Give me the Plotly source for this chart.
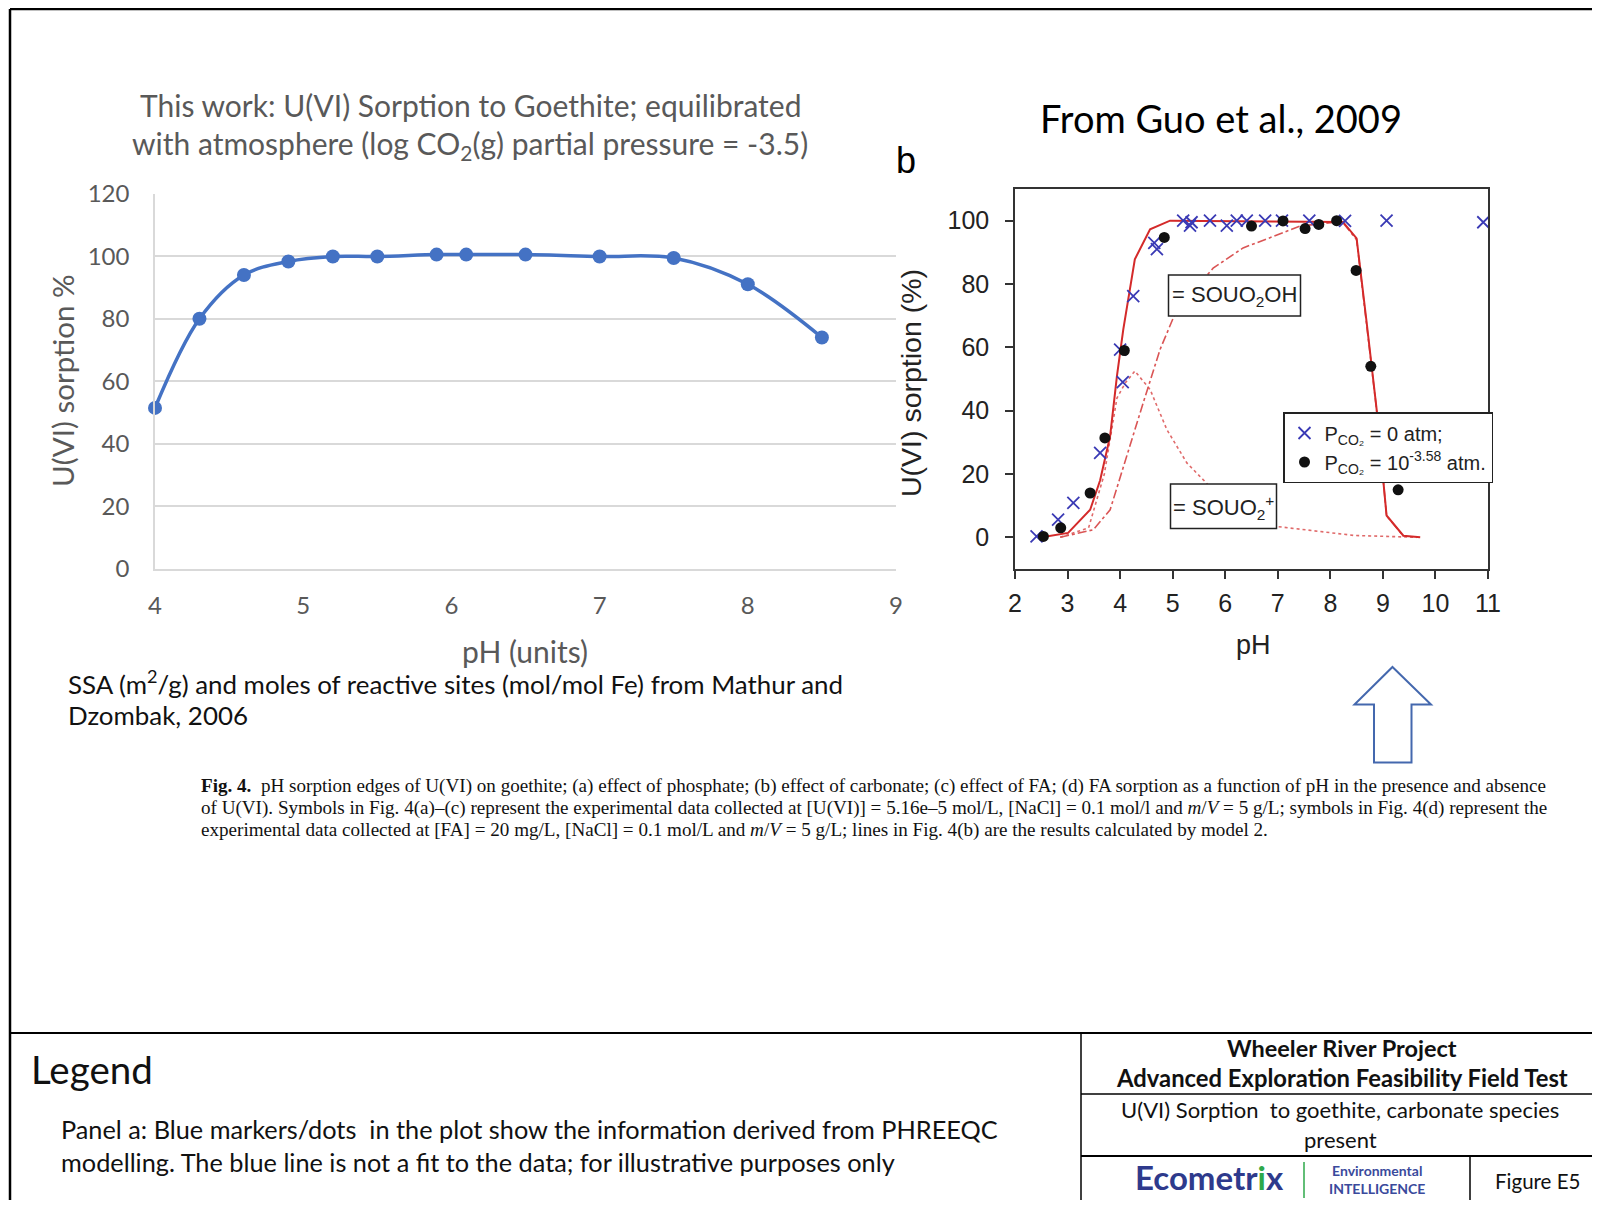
import plotly.graph_objects as go

# page body keeps its default 8px margin, so the figure is sized to fit inside the window
OFF = 8
W, H = 1600 - 2 * OFF, 1208 - 2 * OFF


def px(x):
    return (x - OFF) / W


def py(y):
    return 1 - (y - OFF) / H


# ---------------- Panel a (this work) ----------------
ph_a = [4.0, 4.3, 4.6, 4.9, 5.2, 5.5, 5.9, 6.1, 6.5, 7.0, 7.5, 8.0, 8.5]
sorp_a = [51.5, 80.0, 94.0, 98.3, 99.9, 99.9, 100.5, 100.5, 100.5, 99.9, 99.4, 91.0, 74.0]
xticks_a = [4, 5, 6, 7, 8, 9]
yticks_a = [0, 20, 40, 60, 80, 100, 120]

# ---------------- Panel b (Guo et al., 2009) ----------------
ph_x = [2.41, 2.82, 3.11, 3.62, 4.00, 4.05, 4.25, 4.65, 4.70, 5.20, 5.33, 5.36,
        5.71, 6.03, 6.22, 6.41, 6.76, 7.08, 7.60, 8.28, 9.07, 10.91]
sorp_x = [0.3, 5.6, 10.9, 26.7, 59.3, 49.0, 76.2, 93.0, 91.0, 100.0, 98.4, 99.5,
          100.0, 98.4, 100.0, 100.0, 100.0, 100.0, 100.0, 99.9, 100.0, 99.5]

ph_dot = [2.54, 2.87, 3.43, 3.71, 4.08, 4.84, 6.50, 7.10, 7.52, 7.78, 8.12, 8.49, 8.77, 9.29]
sorp_dot = [0.3, 3.0, 14.0, 31.4, 59.0, 94.7, 98.3, 99.9, 97.5, 98.8, 100.0, 84.3, 54.0, 15.0]

ph_total = [2.51, 3.01, 3.43, 3.62, 3.81, 3.94, 4.06, 4.28, 4.57, 4.95, 8.24, 8.50,
            8.69, 8.88, 9.07, 9.39, 9.71]
sorp_total = [0.0, 1.4, 8.7, 18.0, 32.0, 51.0, 65.6, 87.8, 97.3, 100.0, 99.6, 94.4,
              68.0, 40.6, 6.9, 0.5, 0.0]

ph_ohs = [2.86, 3.49, 3.81, 4.12, 4.44, 4.76, 5.08, 5.77, 6.34, 6.85, 7.42, 8.12,
          8.24, 8.50, 8.69, 8.88, 9.07, 9.39]
sorp_ohs = [0.0, 2.4, 8.7, 25.6, 42.5, 59.3, 72.0, 85.0, 91.4, 94.6, 98.3, 99.6,
            99.3, 94.0, 67.8, 40.4, 6.8, 0.4]

ph_plus = [2.86, 3.40, 3.70, 3.94, 4.10, 4.28, 4.57, 4.89, 5.27, 5.65, 6.19, 6.94, 8.45, 9.65]
sorp_plus = [0.0, 3.0, 20.0, 44.0, 48.8, 52.5, 46.7, 34.0, 23.5, 17.0, 5.8, 3.5, 0.6, 0.0]

xticks_b = [2, 3, 4, 5, 6, 7, 8, 9, 10, 11]
yticks_b = [0, 20, 40, 60, 80, 100]

CAL = "Lato, 'Open Sans', sans-serif"
ARIAL = "'Liberation Sans', Arial, sans-serif"
TIMES = "'Liberation Serif', 'Times New Roman', serif"
GRAY = "#595959"
BLUE = "#4472C4"
RED = "#D42A2A"
XBLUE = "#3A3AB5"

fig = go.Figure()

fig.add_trace(go.Scatter(
    x=ph_a, y=sorp_a, mode="lines+markers", xaxis="x", yaxis="y",
    line=dict(color=BLUE, width=3.5, shape="spline", smoothing=1.0),
    marker=dict(color=BLUE, size=14), cliponaxis=False, showlegend=False,
))

fig.add_trace(go.Scatter(
    x=ph_plus, y=sorp_plus, mode="lines", xaxis="x2", yaxis="y2",
    line=dict(color="#E06A6A", width=1.6, dash="dot"), showlegend=False,
))
fig.add_trace(go.Scatter(
    x=ph_ohs, y=sorp_ohs, mode="lines", xaxis="x2", yaxis="y2",
    line=dict(color="#DA5555", width=1.6, dash="dashdot"), showlegend=False,
))
fig.add_trace(go.Scatter(
    x=ph_total, y=sorp_total, mode="lines", xaxis="x2", yaxis="y2",
    line=dict(color=RED, width=2), showlegend=False,
))
fig.add_trace(go.Scatter(
    x=ph_x, y=sorp_x, mode="markers", xaxis="x2", yaxis="y2",
    marker=dict(symbol="x-thin", size=12, line=dict(color=XBLUE, width=1.8), color=XBLUE),
    name="P<sub>CO₂</sub> = 0 atm;", cliponaxis=False,
))
fig.add_trace(go.Scatter(
    x=ph_dot, y=sorp_dot, mode="markers", xaxis="x2", yaxis="y2",
    marker=dict(symbol="circle", size=11, color="#111111"),
    name="P<sub>CO₂</sub> = 10<sup>-3.58</sup> atm.", cliponaxis=False,
))

ann = []


def text(x, y, s, size, color="#000000", family=CAL, xanchor="center", yanchor="middle",
         angle=0, align="center"):
    ann.append(dict(x=px(x), y=py(y), xref="paper", yref="paper", text=s, showarrow=False,
                    font=dict(size=size, color=color, family=family), xanchor=xanchor,
                    yanchor=yanchor, textangle=angle, align=align))


# Panel a texts
text(470, 105, "This work: U(VI) Sorption to Goethite; equilibrated", 30, GRAY)
text(470, 145, "with atmosphere (log CO<sub>2</sub>(g) partial pressure = -3.5)", 30, GRAY)
text(63, 381, "U(VI) sorption %", 29.5, GRAY, angle=-90)
text(525, 651, "pH (units)", 30, GRAY)
text(66, 682, "SSA (m<sup>2</sup>/g) and moles of reactive sites (mol/mol Fe) from Mathur and", 25.9,
     "#111111", xanchor="left")
text(66, 715, "Dzombak, 2006", 25.9, "#111111", xanchor="left")

# Panel b texts
text(1221, 118, "From Guo et al., 2009", 38, "#000000")
text(906, 160, "b", 36, "#000000", family=ARIAL)
text(911, 383, "U(VI) sorption (%)", 28.5, "#222222", family=ARIAL, angle=-90)
text(1253, 645, "pH", 27, "#222222", family=ARIAL)
text(1234.5, 296, "= SOUO<sub>2</sub>OH", 22, "#222222", family=ARIAL)
text(1223.5, 507, "= SOUO<sub>2</sub><sup>+</sup>", 22, "#222222", family=ARIAL)

# Caption
cap = [
    "<b>Fig. 4.</b>  pH sorption edges of U(VI) on goethite; (a) effect of phosphate; (b) effect of carbonate; "
    "(c) effect of FA; (d) FA sorption as a function of pH in the presence and absence",
    "of U(VI). Symbols in Fig. 4(a)–(c) represent the experimental data collected at [U(VI)] = 5.16e–5 mol/L, "
    "[NaCl] = 0.1 mol/l and <i>m</i>/<i>V</i> = 5 g/L; symbols in Fig. 4(d) represent the",
    "experimental data collected at [FA] = 20 mg/L, [NaCl] = 0.1 mol/L and <i>m</i>/<i>V</i> = 5 g/L; "
    "lines in Fig. 4(b) are the results calculated by model 2.",
]
for i, line in enumerate(cap):
    text(199, 786 + 22 * i, line, 19.1, "#111111", family=TIMES, xanchor="left")

# Bottom title block
text(29, 1069, "Legend", 38.5, "#111111", xanchor="left")
text(59, 1129, "Panel a: Blue markers/dots  in the plot show the information derived from PHREEQC", 25.3,
     "#111111", xanchor="left")
text(59, 1162, "modelling. The blue line is not a fit to the data; for illustrative purposes only", 25.3,
     "#111111", xanchor="left")
text(1342, 1048, "<b>Wheeler River Project</b>", 23.5, "#111111")
text(1342, 1078, "<b>Advanced Exploration Feasibility Field Test</b>", 23.8, "#111111")
text(1340, 1109, "U(VI) Sorption  to goethite, carbonate species", 22, "#111111")
text(1340, 1139, "present", 22, "#111111")
text(1209, 1177, "<b>Ecometr<span style='color:#2EA84A'>i</span>x</b>", 33, "#2E3A8C")
text(1377, 1179, "<b>Environmental<br>INTELLIGENCE</b>", 14, "#3A4A9C")
text(1537, 1181, "Figure E5", 20.5, "#111111")

shapes = []


def line(x0, y0, x1, y1, color="#000000", width=2):
    shapes.append(dict(type="line", xref="paper", yref="paper", x0=px(x0), y0=py(y0),
                       x1=px(x1), y1=py(y1), line=dict(color=color, width=width)))


def rect(x0, y0, x1, y1, color="#222222", width=1.5):
    shapes.append(dict(type="rect", xref="paper", yref="paper", x0=px(x0), y0=py(y0),
                       x1=px(x1), y1=py(y1), line=dict(color=color, width=width),
                       fillcolor="white", layer="above"))


# frame
line(10, 9, 1600, 9, width=2.5)
line(10, 9, 10, 1208, width=2.5)
line(10, 1033, 1600, 1033, width=1.8)
line(1081, 1033, 1081, 1208, width=1.5)
line(1081, 1094, 1600, 1094, width=1.5)
line(1081, 1156, 1600, 1156, width=1.8)
line(1470, 1156, 1470, 1208, width=1.5)
line(1304, 1162, 1304, 1198, color="#2EA84A", width=1.5)

# label boxes in panel b
rect(1168.5, 275, 1300.5, 316)
rect(1170.5, 484, 1276.5, 528.5)

# arrow
pts = [(1392.5, 667), (1431, 704.5), (1411.5, 704.5), (1411.5, 762.5), (1374, 762.5),
       (1374, 704.5), (1354.5, 704.5)]
path = "M " + " L ".join(f"{px(a):.5f},{py(b):.5f}" for a, b in pts) + " Z"
shapes.append(dict(type="path", xref="paper", yref="paper", path=path,
                   line=dict(color="#4468AE", width=2), fillcolor="rgba(0,0,0,0)"))

fig.update_layout(
    width=W, height=H, margin=dict(l=0, r=0, t=0, b=0, autoexpand=False),
    paper_bgcolor="white", plot_bgcolor="white",
    annotations=ann, shapes=shapes,
    xaxis=dict(domain=[px(155), px(896)], range=[4, 9], tickvals=xticks_a, anchor="y",
               automargin=False,
               showgrid=False, zeroline=False, showline=True, linecolor="#D9D9D9", linewidth=1.5,
               ticks="", tickfont=dict(family=CAL, size=24, color=GRAY), ticklabelstandoff=14),
    yaxis=dict(domain=[py(569), py(193.6)], range=[0, 120], tickvals=yticks_a, anchor="x",
               automargin=False,
               showgrid=True, gridcolor="#D9D9D9", gridwidth=1.5, zeroline=False,
               showline=True, linecolor="#D9D9D9", linewidth=1.5,
               ticks="", tickfont=dict(family=CAL, size=24, color=GRAY), ticklabelstandoff=19),
    xaxis2=dict(domain=[px(1015), px(1488)], range=[2, 11], tickvals=xticks_b, anchor="y2",
                automargin=False,
                showgrid=False, zeroline=False, showline=True, mirror=True, linecolor="#333333",
                linewidth=1.5, ticks="outside", ticklen=8, tickwidth=1.5, tickcolor="#333333",
                tickfont=dict(family=ARIAL, size=25, color="#222222"), ticklabelstandoff=3),
    yaxis2=dict(domain=[py(569), py(189)], range=[-10, 110], tickvals=yticks_b, anchor="x2",
                automargin=False,
                showgrid=False, zeroline=False, showline=True, mirror=True, linecolor="#333333",
                linewidth=1.5, ticks="outside", ticklen=8, tickwidth=1.5, tickcolor="#333333",
                tickfont=dict(family=ARIAL, size=25, color="#222222"), ticklabelstandoff=11),
    showlegend=True,
    legend=dict(x=px(1283), y=py(412), xanchor="left", yanchor="top",
                bgcolor="white", bordercolor="#222222", borderwidth=1.5,
                font=dict(family=ARIAL, size=20, color="#222222"),
                itemwidth=30, tracegroupgap=0),
)

fig.write_html("out.html", config={"displayModeBar": False})
